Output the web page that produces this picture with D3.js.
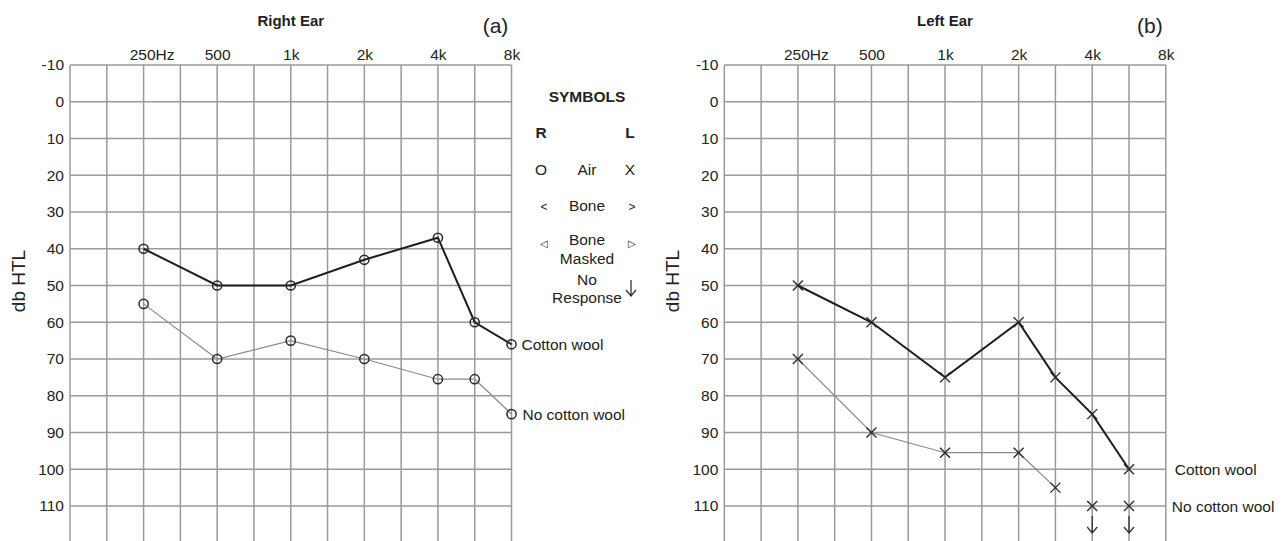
<!DOCTYPE html>
<html>
<head>
<meta charset="utf-8">
<script src="https://cdn.jsdelivr.net/npm/d3@7"></script>
<style>
  body { margin: 0; background: #fff; }
  text { font-family: Arial, "Liberation Sans", sans-serif; fill: #222; }
</style>
</head>
<body>
<svg id="chart" width="1288" height="541"></svg>
<script>
// grid columns of the audiogram (half-octave steps), only some are labelled
var gridFreqs = [125, 180, 250, 375, 500, 750, 1000, 1500, 2000, 3000, 4000, 6000, 8000];
var tickFreqs = [250, 500, 1000, 2000, 4000, 8000];
var tickLabels = ["250Hz", "500", "1k", "2k", "4k", "8k"];
var dbTicks = [-10, 0, 10, 20, 30, 40, 50, 60, 70, 80, 90, 100, 110];

// (a) right ear, air conduction
var rightFreqs = [250, 500, 1000, 2000, 4000, 6000, 8000];
var rightCotton = [40, 50, 50, 43, 37, 60, 66];
var rightNoCotton = [55, 70, 65, 70, 75.5, 75.5, 85];

// (b) left ear, air conduction
var leftCottonFreqs = [250, 500, 1000, 2000, 3000, 4000, 6000];
var leftCotton = [50, 60, 75, 60, 75, 85, 100];
var leftNoCottonFreqs = [250, 500, 1000, 2000, 3000];
var leftNoCotton = [70, 90, 95.5, 95.5, 105];
var leftNoRespFreqs = [4000, 6000];
var leftNoResp = [110, 110];

var legendRows = ["Air", "Bone", "Bone Masked", "No Response"];

var svg = d3.select("#chart");
var plotW = 441.5, plotTop = 65;
var fs = 15.5;

var y = d3.scaleLinear().domain([-10, 120]).range([plotTop, plotTop + 13 * 36.75]);

function makePanel(left, title, tag) {
  var g = svg.append("g");
  var x = d3.scalePoint().domain(gridFreqs).range([left, left + plotW]);

  // grid
  g.selectAll(".hline")
    .data(dbTicks)
    .enter()
    .append("line")
    .attr("x1", left).attr("x2", left + plotW)
    .attr("y1", function (d) { return y(d); })
    .attr("y2", function (d) { return y(d); })
    .attr("stroke", "#9a9a9a").attr("stroke-width", 1.5);
  g.selectAll(".vline")
    .data(gridFreqs)
    .enter()
    .append("line")
    .attr("x1", function (d) { return x(d); })
    .attr("x2", function (d) { return x(d); })
    .attr("y1", y(-10)).attr("y2", y(120))
    .attr("stroke", "#9a9a9a").attr("stroke-width", 1.5);

  // axes
  var xAxis = g.append("g")
    .attr("transform", "translate(0," + plotTop + ")")
    .call(d3.axisTop(x).tickValues(tickFreqs).tickSize(0).tickPadding(5)
      .tickFormat(function (d, i) { return tickLabels[i]; }));
  var yAxis = g.append("g")
    .attr("transform", "translate(" + left + ",0)")
    .call(d3.axisLeft(y).tickValues(dbTicks).tickSize(0).tickPadding(6)
      .tickFormat(function (d) { return String(d); }));
  [xAxis, yAxis].forEach(function (a) {
    a.select(".domain").remove();
    a.selectAll("text").attr("font-size", fs).style("font-family", "Arial, 'Liberation Sans', sans-serif").attr("fill", "#222");
  });
  // "250Hz" sits with its number over the line
  xAxis.selectAll(".tick text").attr("dx", function (d) { return d === 250 ? 8 : 0; });

  g.append("text")
    .attr("x", x(1000)).attr("y", 26)
    .attr("text-anchor", "middle")
    .attr("font-size", 15).attr("font-weight", "bold")
    .text(title);
  g.append("text")
    .attr("x", left + plotW - 16).attr("y", 33)
    .attr("text-anchor", "middle")
    .attr("font-size", 21)
    .text(tag);
  g.append("text")
    .attr("transform", "translate(" + (left - 45) + "," + 281 + ")rotate(-90)")
    .attr("text-anchor", "middle")
    .attr("font-size", 19)
    .text("db HTL");
  return { g: g, x: x };
}

function drawLine(p, freqs, vals, color, width) {
  var line = d3.line()
    .x(function (d, i) { return p.x(freqs[i]); })
    .y(function (d) { return y(d); });
  p.g.append("path")
    .datum(vals)
    .attr("d", line)
    .attr("fill", "none")
    .attr("stroke", color)
    .attr("stroke-width", width);
}

function drawCircles(p, freqs, vals) {
  p.g.selectAll(null)
    .data(vals)
    .enter()
    .append("circle")
    .attr("cx", function (d, i) { return p.x(freqs[i]); })
    .attr("cy", function (d) { return y(d); })
    .attr("r", 4.6)
    .attr("fill", "none")
    .attr("stroke", "#2a2a2a")
    .attr("stroke-width", 1.5);
}

function drawCrosses(p, freqs, vals) {
  var s = 5;
  p.g.selectAll(null)
    .data(vals)
    .enter()
    .append("path")
    .attr("d", function (d, i) {
      var cx = p.x(freqs[i]), cy = y(d);
      return "M" + (cx - s) + "," + (cy - s) + "L" + (cx + s) + "," + (cy + s) +
        "M" + (cx - s) + "," + (cy + s) + "L" + (cx + s) + "," + (cy - s);
    })
    .attr("fill", "none")
    .attr("stroke", "#2a2a2a")
    .attr("stroke-width", 1.4);
}

// panel (a)
var pa = makePanel(70, "Right Ear", "(a)");
drawLine(pa, rightFreqs, rightNoCotton, "#8a8a8a", 1.2);
drawLine(pa, rightFreqs, rightCotton, "#1e1e1e", 2);
drawCircles(pa, rightFreqs, rightNoCotton);
drawCircles(pa, rightFreqs, rightCotton);
pa.g.append("text")
  .attr("x", pa.x(8000) + 10).attr("y", y(rightCotton[6]) + 5.5)
  .attr("font-size", fs).text("Cotton wool");
pa.g.append("text")
  .attr("x", pa.x(8000) + 11).attr("y", y(rightNoCotton[6]) + 5.5)
  .attr("font-size", fs).text("No cotton wool");

// symbols legend
var lg = svg.append("g").attr("font-size", fs);
lg.append("text").attr("x", 587).attr("y", 102).attr("text-anchor", "middle")
  .attr("font-weight", "bold").text("SYMBOLS");
lg.append("text").attr("x", 541).attr("y", 138).attr("text-anchor", "middle")
  .attr("font-weight", "bold").text("R");
lg.append("text").attr("x", 630).attr("y", 138).attr("text-anchor", "middle")
  .attr("font-weight", "bold").text("L");
lg.append("text").attr("x", 541).attr("y", 175).attr("text-anchor", "middle").text("O");
lg.append("text").attr("x", 587).attr("y", 175).attr("text-anchor", "middle").text(legendRows[0]);
lg.append("text").attr("x", 630).attr("y", 175).attr("text-anchor", "middle").text("X");
lg.append("text").attr("x", 544).attr("y", 211).attr("text-anchor", "middle").attr("font-size", 12).text("<");
lg.append("text").attr("x", 587).attr("y", 211).attr("text-anchor", "middle").text(legendRows[1]);
lg.append("text").attr("x", 632).attr("y", 211).attr("text-anchor", "middle").attr("font-size", 12).text(">");
lg.append("text").attr("x", 544).attr("y", 247).attr("text-anchor", "middle").attr("font-size", 10).text("◁");
lg.append("text").attr("x", 587).attr("y", 245).attr("text-anchor", "middle").text("Bone");
lg.append("text").attr("x", 587).attr("y", 263.5).attr("text-anchor", "middle").text("Masked");
lg.append("text").attr("x", 632).attr("y", 247).attr("text-anchor", "middle").attr("font-size", 10).text("▷");
lg.append("text").attr("x", 587).attr("y", 285).attr("text-anchor", "middle").text("No");
lg.append("text").attr("x", 587).attr("y", 303).attr("text-anchor", "middle").text("Response");
lg.append("path")
  .attr("d", "M631,280L631,296M626,290L631,296L636,290")
  .attr("fill", "none").attr("stroke", "#333").attr("stroke-width", 1.3);

// panel (b)
var pb = makePanel(724.3, "Left Ear", "(b)");
drawLine(pb, leftNoCottonFreqs, leftNoCotton, "#8a8a8a", 1.2);
drawLine(pb, leftCottonFreqs, leftCotton, "#1e1e1e", 2);
drawCrosses(pb, leftNoCottonFreqs, leftNoCotton);
drawCrosses(pb, leftCottonFreqs, leftCotton);
drawCrosses(pb, leftNoRespFreqs, leftNoResp);
// no-response arrows under the 110 dB marks
pb.g.selectAll(null)
  .data(leftNoResp)
  .enter()
  .append("path")
  .attr("d", function (d, i) {
    var cx = pb.x(leftNoRespFreqs[i]), y0 = y(d) + 10, y1 = y(d) + 27;
    return "M" + cx + "," + y0 + "L" + cx + "," + y1 +
      "M" + (cx - 5) + "," + (y1 - 6) + "L" + cx + "," + y1 + "L" + (cx + 5) + "," + (y1 - 6);
  })
  .attr("fill", "none").attr("stroke", "#333").attr("stroke-width", 1.3);
pb.g.append("text")
  .attr("x", 724.3 + plotW + 9).attr("y", y(100) + 5.5)
  .attr("font-size", fs).text("Cotton wool");
pb.g.append("text")
  .attr("x", 724.3 + plotW + 6).attr("y", y(110) + 5.5)
  .attr("font-size", fs).text("No cotton wool");
</script>
</body>
</html>
